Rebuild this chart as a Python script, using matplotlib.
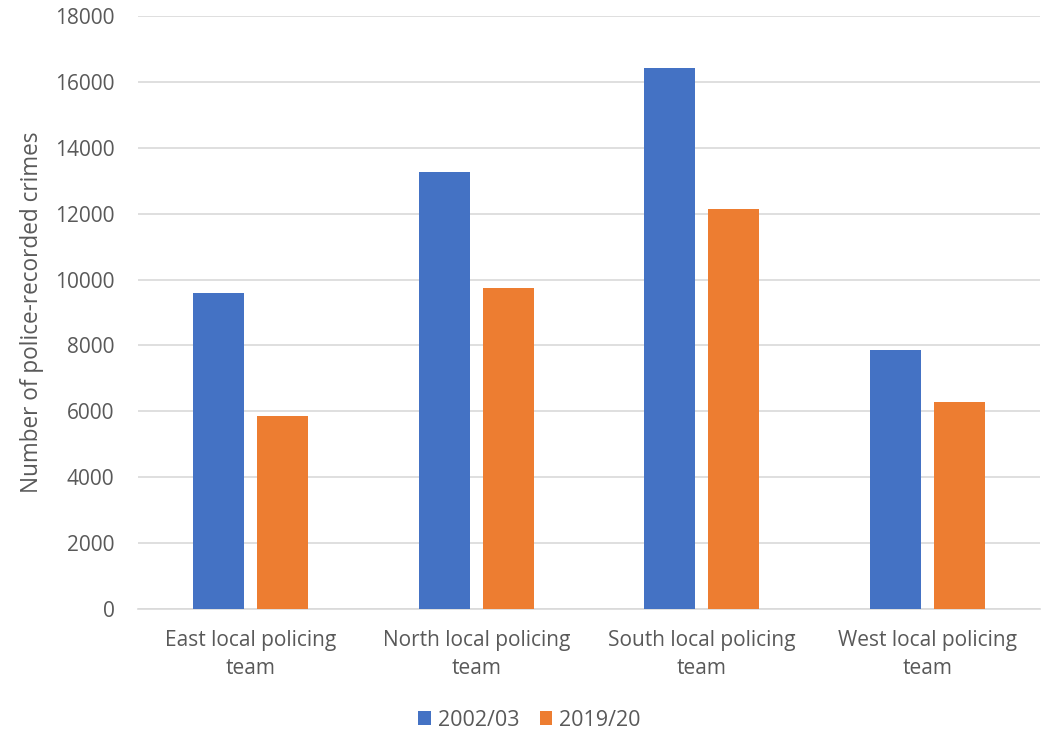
import numpy as np
import matplotlib
matplotlib.use("Agg")
import matplotlib.pyplot as plt

# data
teams = ["East local policing\nteam", "North local policing\nteam",
         "South local policing\nteam", "West local policing\nteam"]
crimes_2002 = [9580, 13260, 16420, 7850]
crimes_2019 = [5860, 9740, 12140, 6270]
series_labels = ["2002/03", "2019/20"]

plt.rcParams['font.family'] = ['Open Sans', 'DejaVu Sans']
grey = '#595959'

fig = plt.figure(figsize=(10.46, 7.34), dpi=100)
ax = fig.add_axes([138/1046, 1-609/734, 902/1046, 593/734])

x = np.arange(len(teams))
w = 0.226
ax.bar(x - 0.142, crimes_2002, w, color='#4472C4', label=series_labels[0], zorder=3)
ax.bar(x + 0.142, crimes_2019, w, color='#ED7D31', label=series_labels[1], zorder=3)

ax.set_xlim(-0.5, len(teams) - 0.5)
ax.set_ylim(0, 18000)
ax.set_yticks(np.arange(0, 18001, 2000))
ax.grid(axis='y', color='#d9d9d9', linewidth=1.2, zorder=0)
for s in ['top', 'right', 'left']:
    ax.spines[s].set_visible(False)
ax.spines['bottom'].set_color('#d9d9d9')
ax.spines['bottom'].set_linewidth(1.2)
ax.tick_params(length=0, labelsize=15, colors=grey)
ax.tick_params(axis='y', pad=17)
ax.tick_params(axis='x', pad=15)
ax.set_xticks(x)
ax.set_xticklabels(teams, linespacing=1.45)
ax.set_ylabel('Number of police-recorded crimes', fontsize=16.3, color=grey, labelpad=8)

leg = fig.legend(loc='center', bbox_to_anchor=(0.506, 1 - 720/734), ncol=2, frameon=False,
                 fontsize=15.5, handlelength=0.6, handleheight=0.6, columnspacing=0.95,
                 handletextpad=0.3)
for t in leg.get_texts():
    t.set_color(grey)

plt.savefig('out.png', dpi=100)
plt.close()
